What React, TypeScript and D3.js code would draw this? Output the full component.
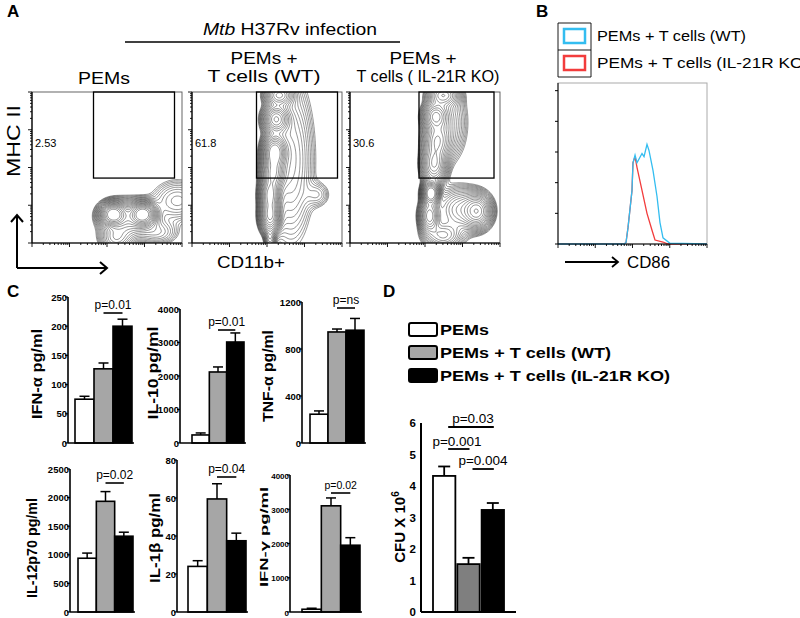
import React, { useEffect, useRef } from 'react';
import * as d3 from 'd3';

const groupNames = ['PEMs', 'PEMs + T cells (WT)', 'PEMs + T cells (IL-21R KO)'];

// panel A: % in MHC II+ gate, and density clusters [x, y, sdX, sdY, weight] in axis fractions
const gateLabels = ['2.53', '61.8', '30.6'];
const pemsClusters = [
  [0.54, 0.19, 0.045, 0.04, 1.0],
  [0.74, 0.19, 0.045, 0.04, 1.0],
  [0.64, 0.16, 0.1, 0.07, 0.3],
  [0.56, 0.03, 0.06, 0.05, 0.2],
  [0.97, 0.28, 0.1, 0.08, 0.12],
  [0.84, 0.07, 0.08, 0.05, 0.1],
];
const wtClusters = [
  [0.52, 0.03, 0.02, 0.05, 0.2],
  [0.52, 0.18, 0.035, 0.06, 0.9],
  [0.52, 0.32, 0.035, 0.06, 0.9],
  [0.54, 0.46, 0.04, 0.06, 0.8],
  [0.55, 0.6, 0.04, 0.06, 1.1],
  [0.56, 0.82, 0.045, 0.05, 0.7],
  [0.58, 0.98, 0.05, 0.04, 0.5],
  [0.66, 0.55, 0.085, 0.3, 0.18],
  [0.84, 0.32, 0.05, 0.05, 0.07],
];
const koClusters = [
  [0.54, 0.33, 0.03, 0.04, 1.2],
  [0.53, 0.18, 0.035, 0.06, 0.7],
  [0.56, 0.52, 0.045, 0.07, 0.5],
  [0.58, 0.68, 0.05, 0.07, 0.45],
  [0.57, 0.84, 0.045, 0.05, 0.6],
  [0.62, 0.98, 0.055, 0.04, 0.45],
  [0.85, 0.21, 0.05, 0.06, 0.6],
  [0.74, 0.22, 0.09, 0.08, 0.3],
  [0.62, 0.05, 0.07, 0.05, 0.3],
  [0.66, 0.8, 0.07, 0.15, 0.14],
];
// gate boxes [x0, x1, yBottom] in axis fractions (top of gate = top of plot)
const gates = [
  [0.41, 0.95, 0.43],
  [0.43, 0.97, 0.43],
  [0.46, 0.96, 0.43],
];

// panel B: CD86 intensity vs % of max
const cd86Wt = [
  [1, 0], [60, 0], [67, 1], [76, 11], [97, 35], [103, 53], [117, 58], [132, 53],
  [180, 59], [204, 57], [245, 65], [277, 61], [355, 48], [455, 31], [547, 14],
  [659, 4], [1016, 0.5], [10000, 0],
];
const cd86Ko = [
  [1, 0], [60, 0], [67, 1], [76, 11], [97, 35], [103, 53], [117, 57], [132, 50],
  [180, 35], [245, 20], [334, 9], [402, 2.6], [659, 1.3], [897, 0], [10000, 0],
];
const histLegend = ['PEMs + T cells (WT)', 'PEMs + T cells (IL-21R KO)'];

// panel C: cytokines (mean, SEM) for the three groups
const ifnAlpha = [75, 127, 200];
const ifnAlphaErr = [5, 10, 12];
const il10 = [240, 2120, 3015];
const il10Err = [60, 150, 270];
const tnfAlpha = [245, 945, 960];
const tnfAlphaErr = [28, 25, 100];
const il12p70 = [940, 1935, 1325];
const il12p70Err = [90, 170, 70];
const il1beta = [24, 59.5, 37.5];
const il1betaErr = [3, 8, 4];
const ifnGamma = [80, 3100, 1950];
const ifnGammaErr = [30, 230, 220];
const pValuesC = ['p=0.01', 'p=0.01', 'p=ns', 'p=0.02', 'p=0.04', 'p=0.02'];

// panel D: CFU
const cfu = [4.32, 1.52, 3.24];
const cfuErr = [0.3, 0.2, 0.22];
const cfuTicks = [0, 1, 2, 3, 4, 5, 6];
const pValuesD = ['p=0.03', 'p=0.001', 'p=0.004'];

const FONT = 'Arial, "Liberation Sans", sans-serif';
const barFill = ['#ffffff', '#a6a6a6', '#000000'];

const cCharts = [
  { label: 'IFN-α pg/ml', values: ifnAlpha, err: ifnAlphaErr, ticks: [0, 50, 100, 150, 200, 250], ax: 68, base: 443, top: 297, bars: [75, 132], lx: 37, ly: 374, ll: 90, lf: 14, p: 0, py: 313 },
  { label: 'IL-10 pg/ml', values: il10, err: il10Err, ticks: [0, 1000, 2000, 3000, 4000], ax: 180, base: 443, top: 309, bars: [192, 244], lx: 153, ly: 373, ll: 93, lf: 14, p: 1, py: 330 },
  { label: 'TNF-α pg/ml', values: tnfAlpha, err: tnfAlphaErr, ticks: [0, 400, 800, 1200], ax: 302, base: 443, top: 302, bars: [310, 364], lx: 268, ly: 376, ll: 92, lf: 14, p: 2, py: 308 },
  { label: 'IL-12p70 pg/ml', values: il12p70, err: il12p70Err, ticks: [0, 500, 1000, 1500, 2000, 2500], ax: 70, base: 612, top: 469, bars: [78, 133], lx: 32, ly: 548, ll: 100, lf: 14, p: 3, py: 483 },
  { label: 'IL-1β pg/ml', values: il1beta, err: il1betaErr, ticks: [0, 20, 40, 60, 80], ax: 177, base: 612, top: 460, bars: [188, 246], lx: 155, ly: 538, ll: 90, lf: 14, p: 4, py: 477 },
  { label: 'IFN-γ pg/ml', values: ifnGamma, err: ifnGammaErr, ticks: [0, 1000, 2000, 3000, 4000], ax: 290, base: 612, top: 475, bars: [302, 360], lx: 264, ly: 537, ll: 100, lf: 11, p: 5, py: 493 },
];

type Sel = d3.Selection<SVGGElement, unknown, null, undefined>;

function addText(g: Sel, x: number, y: number, s: string, opts: any = {}) {
  const t = g.append('text')
    .attr('x', x).attr('y', y)
    .attr('font-family', FONT)
    .attr('font-size', opts.size || 14)
    .attr('font-weight', opts.bold ? 'bold' : 'normal')
    .attr('text-anchor', opts.anchor || 'start')
    .attr('fill', '#000')
    .text(s);
  if (opts.len) t.attr('textLength', opts.len).attr('lengthAdjust', 'spacingAndGlyphs');
  if (opts.rotate) t.attr('transform', `rotate(-90,${x},${y})`).attr('dy', '0.35em');
  return t;
}

const isMajor = (v: number) => Math.abs(Math.log10(v) - Math.round(Math.log10(v))) < 1e-6;

function drawFlowPanel(g: Sel, clusters: number[][], gate: number[], label: string, x0: number, y0: number, w: number, h: number, id: string) {
  const n = 140;
  const pad = 0.1;
  const span = 1 + 2 * pad;
  const values: number[] = new Array(n * n);
  for (let j = 0; j < n; j++) {
    for (let i = 0; i < n; i++) {
      const fx = -pad + ((i + 0.5) / n) * span;
      const fy = 1 + pad - ((j + 0.5) / n) * span;
      let v = 0;
      clusters.forEach(([cx, cy, sx, sy, wt]) => {
        v += wt * Math.exp(-((fx - cx) ** 2 / (2 * sx * sx) + (fy - cy) ** 2 / (2 * sy * sy)));
      });
      values[j * n + i] = v;
    }
  }
  const max = d3.max(values) as number;
  const thresholds = d3.range(20).map(k => max * 0.022 * Math.pow(1.2, k));
  const contours = d3.contours().size([n, n]).thresholds(thresholds)(values);
  const proj = d3.geoTransform({
    point(px: number, py: number) {
      (this as any).stream.point(x0 + (-pad + (px / n) * span) * w, y0 + (-pad + (py / n) * span) * h);
    },
  });
  const path = d3.geoPath(proj);

  g.append('clipPath').attr('id', id)
    .append('rect').attr('x', x0).attr('y', y0).attr('width', w).attr('height', h);

  g.append('g').attr('clip-path', `url(#${id})`)
    .selectAll('path')
    .data(contours)
    .enter()
    .append('path')
    .attr('d', path as any)
    .attr('fill', 'none')
    .attr('stroke', '#1a1a1a')
    .attr('stroke-width', 0.55)
    .attr('stroke-opacity', 0.85);

  // frame
  g.append('rect').attr('x', x0).attr('y', y0).attr('width', w).attr('height', h)
    .attr('fill', 'none').attr('stroke', '#555').attr('stroke-width', 0.9);

  const xs = d3.scaleLog().domain([1, 10000]).range([x0, x0 + w]);
  const ys = d3.scaleLog().domain([1, 10000]).range([y0 + h, y0]);

  g.append('line').attr('x1', x0).attr('x2', x0).attr('y1', y0).attr('y2', y0 + h).attr('stroke', '#000').attr('stroke-width', 1.2);
  g.append('line').attr('x1', x0).attr('x2', x0 + w).attr('y1', y0 + h).attr('y2', y0 + h).attr('stroke', '#000').attr('stroke-width', 1.2);
  xs.ticks(10).forEach(v => {
    const L = isMajor(v) ? 4 : 2;
    g.append('line').attr('x1', xs(v)).attr('x2', xs(v)).attr('y1', y0 + h).attr('y2', y0 + h + L).attr('stroke', '#000').attr('stroke-width', 0.9);
  });
  ys.ticks(10).forEach(v => {
    const L = isMajor(v) ? 4 : 2;
    g.append('line').attr('x1', x0 - L).attr('x2', x0).attr('y1', ys(v)).attr('y2', ys(v)).attr('stroke', '#000').attr('stroke-width', 0.9);
  });

  // gate
  g.append('rect')
    .attr('x', x0 + gate[0] * w).attr('y', y0)
    .attr('width', (gate[1] - gate[0]) * w).attr('height', (1 - gate[2]) * h)
    .attr('fill', 'none').attr('stroke', '#000').attr('stroke-width', 1.3);

  addText(g, x0 + 3, y0 + 55, label, { size: 11 });
}

function drawBarChart(g: Sel, c: any) {
  const y = d3.scaleLinear().domain([0, c.ticks[c.ticks.length - 1]]).range([c.base, c.top]);
  const x = d3.scaleBand().domain(groupNames).range(c.bars).paddingInner(0);
  const data = c.values.map((v: number, i: number) => ({ name: groupNames[i], v, e: c.err[i], i }));

  g.append('g').selectAll('rect').data(data).enter().append('rect')
    .attr('x', (d: any) => x(d.name))
    .attr('y', (d: any) => y(d.v))
    .attr('width', x.bandwidth())
    .attr('height', (d: any) => c.base - y(d.v))
    .attr('fill', (d: any) => barFill[d.i])
    .attr('stroke', '#000').attr('stroke-width', 1.6);

  const eg = g.append('g').attr('stroke', '#000').attr('stroke-width', 1.5);
  data.forEach((d: any) => {
    const cx = (x(d.name) as number) + x.bandwidth() / 2;
    eg.append('line').attr('x1', cx).attr('x2', cx).attr('y1', y(d.v)).attr('y2', y(d.v + d.e));
    eg.append('line').attr('x1', cx - 5).attr('x2', cx + 5).attr('y1', y(d.v + d.e)).attr('y2', y(d.v + d.e));
  });

  // axes
  g.append('line').attr('x1', c.ax).attr('x2', c.ax).attr('y1', c.top).attr('y2', c.base).attr('stroke', '#000').attr('stroke-width', 1.6);
  g.append('line').attr('x1', c.ax).attr('x2', c.bars[1] + 2).attr('y1', c.base).attr('y2', c.base).attr('stroke', '#000').attr('stroke-width', 1.6);
  c.ticks.forEach((t: number) => {
    g.append('line').attr('x1', c.ax - 3).attr('x2', c.ax).attr('y1', y(t)).attr('y2', y(t)).attr('stroke', '#000').attr('stroke-width', 1.2);
    addText(g, c.ax - 1, y(t) + 3.5, String(t), { size: c.lf === 11 ? 8 : 9.5, bold: true, anchor: 'end' });
  });

  addText(g, c.lx, c.ly, c.label, { size: c.lf, bold: true, anchor: 'middle', rotate: true, len: c.ll });

  // significance between WT and KO bars
  const x1 = (x(groupNames[1]) as number) + x.bandwidth() / 2;
  const x2 = (x(groupNames[2]) as number) + x.bandwidth() / 2;
  g.append('line').attr('x1', x1).attr('x2', x2).attr('y1', c.py).attr('y2', c.py).attr('stroke', '#000').attr('stroke-width', 1.6);
  addText(g, (x1 + x2) / 2, c.py - 4, pValuesC[c.p], { size: c.lf === 11 ? 10.5 : 12, anchor: 'middle' });
}

const App = () => {
  const svgRef = useRef<SVGSVGElement>(null);

  useEffect(() => {
    const svg = d3.select(svgRef.current);
    svg.selectAll('*').remove();
    const root = svg.append('g') as unknown as Sel;

    // ---------- panel labels
    addText(root, 7, 17, 'A', { size: 17, bold: true });
    addText(root, 536, 17, 'B', { size: 17, bold: true });
    addText(root, 7, 297, 'C', { size: 17, bold: true });
    addText(root, 383, 297, 'D', { size: 17, bold: true });

    // ---------- panel A
    const head = root.append('text').attr('x', 290).attr('y', 35)
      .attr('font-family', FONT).attr('font-size', 16).attr('text-anchor', 'middle')
      .attr('textLength', 174).attr('lengthAdjust', 'spacingAndGlyphs');
    head.append('tspan').attr('font-style', 'italic').text('Mtb');
    head.append('tspan').text(' H37Rv infection');
    root.append('line').attr('x1', 125).attr('x2', 400).attr('y1', 42).attr('y2', 42).attr('stroke', '#000').attr('stroke-width', 1.5);

    addText(root, 104, 84, groupNames[0], { size: 17, anchor: 'middle', len: 52 });
    addText(root, 264, 64, 'PEMs +', { size: 17, anchor: 'middle', len: 67 });
    addText(root, 264, 82, 'T cells (WT)', { size: 17, anchor: 'middle', len: 113 });
    addText(root, 423, 64, 'PEMs +', { size: 17, anchor: 'middle', len: 67 });
    addText(root, 428, 82, 'T cells ( IL-21R KO)', { size: 17, anchor: 'middle', len: 143 });

    const flowX = [32, 192, 350];
    [pemsClusters, wtClusters, koClusters].forEach((cl, i) => {
      drawFlowPanel(root, cl, gates[i], gateLabels[i], flowX[i], 92, 150, 151, `flowclip${i}`);
    });

    // axis arrows
    const arr = root.append('g').attr('stroke', '#000').attr('stroke-width', 2).attr('fill', 'none');
    arr.append('path').attr('d', 'M17,268 L17,215 M11,222 L17,215 L23,222');
    arr.append('path').attr('d', 'M17,268 L107,268 M100,262 L107,268 L100,274');
    addText(root, 14, 141, 'MHC II', { size: 18, anchor: 'middle', rotate: true, len: 72 });
    addText(root, 251, 268, 'CD11b+', { size: 17, anchor: 'middle', len: 68 });

    // ---------- panel B
    const hx0 = 558, hx1 = 707, hy0 = 83, hy1 = 244;
    const hx = d3.scaleLog().domain([1, 10000]).range([hx0, hx1]);
    const hy = d3.scaleLinear().domain([0, 105]).range([hy1, hy0]);
    root.append('rect').attr('x', hx0).attr('y', hy0).attr('width', hx1 - hx0).attr('height', hy1 - hy0)
      .attr('fill', 'none').attr('stroke', '#aaa').attr('stroke-width', 1);
    const line = d3.line<number[]>().x(d => hx(d[0])).y(d => hy(d[1]));
    root.append('path').attr('d', line(cd86Ko) as string).attr('fill', 'none').attr('stroke', '#f23c3c').attr('stroke-width', 1.3);
    root.append('path').attr('d', line(cd86Wt) as string).attr('fill', 'none').attr('stroke', '#33bdf0').attr('stroke-width', 1.3);
    root.append('line').attr('x1', hx0).attr('x2', hx0).attr('y1', hy0).attr('y2', hy1).attr('stroke', '#000').attr('stroke-width', 1);
    root.append('line').attr('x1', hx0).attr('x2', hx1).attr('y1', hy1).attr('y2', hy1).attr('stroke', '#000').attr('stroke-width', 1);
    [0, 20, 40, 60, 80, 100].forEach(t => {
      root.append('line').attr('x1', hx0 - 3).attr('x2', hx0).attr('y1', hy(t)).attr('y2', hy(t)).attr('stroke', '#000');
    });
    hx.ticks(10).forEach(v => {
      root.append('line').attr('x1', hx(v)).attr('x2', hx(v)).attr('y1', hy1).attr('y2', hy1 + (isMajor(v) ? 4 : 2)).attr('stroke', '#000').attr('stroke-width', 0.9);
    });
    // legend
    const lg = root.append('g');
    lg.append('path').attr('d', 'M558,23 L591,23 M558,50 L591,50 M558,77 L591,77 M558,23 L558,77 M591,23 L591,77')
      .attr('stroke', '#000').attr('stroke-width', 0.9).attr('fill', 'none');
    lg.append('rect').attr('x', 564).attr('y', 29).attr('width', 21).attr('height', 14).attr('fill', 'none').attr('stroke', '#33bdf0').attr('stroke-width', 2.5);
    lg.append('rect').attr('x', 564).attr('y', 56).attr('width', 21).attr('height', 14).attr('fill', 'none').attr('stroke', '#f23c3c').attr('stroke-width', 2.5);
    addText(root, 597, 41, histLegend[0], { size: 15, len: 149 });
    addText(root, 597, 68, histLegend[1], { size: 15, len: 212 });
    root.append('path').attr('d', 'M565,262 L618,262 M612,257 L618,262 L612,267').attr('stroke', '#000').attr('stroke-width', 1.8).attr('fill', 'none');
    addText(root, 627, 268, 'CD86', { size: 16, len: 43 });

    // ---------- panel C
    cCharts.forEach(c => drawBarChart(root, c));

    // ---------- panel D legend
    const dl = root.append('g');
    groupNames.forEach((name, i) => {
      const yy = 323 + i * 23;
      dl.append('rect').attr('x', 409).attr('y', yy).attr('width', 28).attr('height', 13).attr('rx', 2)
        .attr('fill', barFill[i]).attr('stroke', '#000').attr('stroke-width', 2);
      addText(root, 440, yy + 12, name, { size: 15, bold: true, len: [49, 171, 230][i] });
    });

    // ---------- panel D chart
    const dAx = 421, dBase = 612, dTop = 423;
    const dy = d3.scaleLinear().domain([0, 6]).range([dBase, dTop]);
    const dx = d3.scaleBand().domain(groupNames).range([433, 504]).paddingInner(0.08);
    const dFill = ['#ffffff', '#7f7f7f', '#000000'];
    cfu.forEach((v, i) => {
      root.append('rect').attr('x', dx(groupNames[i]) as number).attr('y', dy(v))
        .attr('width', dx.bandwidth()).attr('height', dBase - dy(v))
        .attr('fill', dFill[i]).attr('stroke', '#000').attr('stroke-width', 1.8);
      const cx = (dx(groupNames[i]) as number) + dx.bandwidth() / 2;
      root.append('line').attr('x1', cx).attr('x2', cx).attr('y1', dy(v)).attr('y2', dy(v + cfuErr[i])).attr('stroke', '#000').attr('stroke-width', 1.8);
      root.append('line').attr('x1', cx - 6).attr('x2', cx + 6).attr('y1', dy(v + cfuErr[i])).attr('y2', dy(v + cfuErr[i])).attr('stroke', '#000').attr('stroke-width', 1.8);
    });
    root.append('line').attr('x1', dAx).attr('x2', dAx).attr('y1', dTop).attr('y2', dBase).attr('stroke', '#000').attr('stroke-width', 2);
    root.append('line').attr('x1', dAx).attr('x2', 516).attr('y1', dBase).attr('y2', dBase).attr('stroke', '#000').attr('stroke-width', 2);
    cfuTicks.forEach(t => {
      addText(root, 416, dy(t) + 4, String(t), { size: 11.5, bold: true, anchor: 'end' });
    });
    const yl = root.append('text').attr('x', 400).attr('y', 527)
      .attr('transform', 'rotate(-90,400,527)').attr('dy', '0.35em')
      .attr('font-family', FONT).attr('font-size', 15).attr('font-weight', 'bold').attr('text-anchor', 'middle');
    yl.append('tspan').text('CFU X 10');
    yl.append('tspan').attr('font-size', 10).attr('dy', '-6').text('6');

    const cxs = groupNames.map(n => (dx(n) as number) + dx.bandwidth() / 2);
    const sig = [
      { a: 0, b: 2, y: 427, ty: 423, tx: 473 },
      { a: 0, b: 1, y: 449, ty: 446, tx: 457 },
      { a: 1, b: 2, y: 469, ty: 465, tx: 483 },
    ];
    sig.forEach((s, i) => {
      root.append('line').attr('x1', cxs[s.a] + 4).attr('x2', cxs[s.b] + 1).attr('y1', s.y).attr('y2', s.y).attr('stroke', '#000').attr('stroke-width', 1.8);
      addText(root, s.tx, s.ty, pValuesD[i], { size: 13.5, anchor: 'middle' });
    });
  }, []);

  return (
    <svg ref={svgRef} width={800} height={618}
      style={{ position: 'absolute', left: 0, top: 0, background: '#fff' }} />
  );
};

export default App;
